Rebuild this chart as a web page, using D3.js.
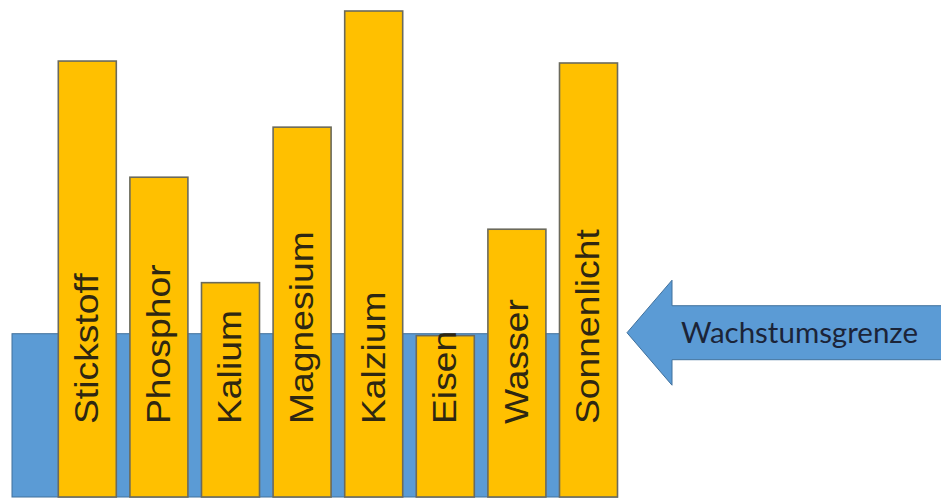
<!DOCTYPE html>
<html>
<head>
<meta charset="utf-8">
<script src="https://cdn.jsdelivr.net/npm/d3@7"></script>
<style>
  html, body { margin: 0; padding: 0; background: #ffffff; }
  svg { display: block; }
</style>
</head>
<body>
<svg id="chart" width="941" height="499"></svg>
<script>
// Nährstoffe und Wachstumsfaktoren (relative Verfügbarkeit)
const categories = ["Stickstoff", "Phosphor", "Kalium", "Magnesium", "Kalzium", "Eisen", "Wasser", "Sonnenlicht"];
const values = [89.7, 65.8, 44.1, 76.1, 100, 33.2, 55.1, 89.3];
// Der knappste Faktor bestimmt den Wasserstand im Fass
const growthLimit = 33.6;
const limitLabel = "Wachstumsgrenze";

const W = 941, H = 499;
const svg = d3.select("#chart");

const x = d3.scaleBand()
  .domain(categories)
  .range([58.3, 617.5])
  .paddingInner(0.19)
  .paddingOuter(0);

const y = d3.scaleLinear()
  .domain([0, 100])
  .range([497, 11]);

const blue = "#5b9bd5";
const blueEdge = "#41719c";
const orange = "#ffc000";
const barEdge = "#6b6a5c";

// Wasserstand (Fass)
const barrelLeft = 12;
svg.append("rect")
  .attr("x", barrelLeft)
  .attr("y", y(growthLimit))
  .attr("width", x.range()[1] - barrelLeft)
  .attr("height", y(0) - y(growthLimit))
  .attr("fill", blue)
  .attr("stroke", blueEdge)
  .attr("stroke-width", 1);

// Fassdauben
svg.append("g")
  .selectAll("rect")
  .data(categories)
  .join("rect")
  .attr("x", d => x(d))
  .attr("y", (d, i) => y(values[i]))
  .attr("width", x.bandwidth())
  .attr("height", (d, i) => y(0) - y(values[i]))
  .attr("fill", orange)
  .attr("stroke", barEdge)
  .attr("stroke-width", 1.6);

// Beschriftung der Dauben (senkrecht)
const labelSize = 33;
const labelBottom = 424;
svg.append("g")
  .selectAll("text")
  .data(categories)
  .join("text")
  .attr("transform", d => `translate(${x(d) + x.bandwidth() / 2 + labelSize * 0.33},${labelBottom}) rotate(-90) scale(1.13,1)`)
  .attr("text-anchor", "start")
  .attr("font-family", "'Liberation Sans', Arial, sans-serif")
  .attr("font-size", labelSize)
  .attr("fill", "#2e2712")
  .text(d => d);

// Pfeil auf Höhe der Wachstumsgrenze
const tipX = x.range()[1] + 9.5;
const tipY = y(growthLimit) - 1;
const headLen = 45, headHalf = 52.5, shaftHalf = 27;
const arrow = d3.path();
arrow.moveTo(tipX, tipY);
arrow.lineTo(tipX + headLen, tipY - headHalf);
arrow.lineTo(tipX + headLen, tipY - shaftHalf);
arrow.lineTo(W + 10, tipY - shaftHalf);
arrow.lineTo(W + 10, tipY + shaftHalf);
arrow.lineTo(tipX + headLen, tipY + shaftHalf);
arrow.lineTo(tipX + headLen, tipY + headHalf);
arrow.closePath();
svg.append("path")
  .attr("d", arrow.toString())
  .attr("fill", blue)
  .attr("stroke", blueEdge)
  .attr("stroke-width", 1);

svg.append("text")
  .attr("transform", `translate(${tipX + 54},${tipY + 10.5}) scale(1,1.14)`)
  .attr("font-family", "Lato, 'Open Sans', sans-serif")
  .attr("font-size", 26)
  .attr("textLength", 237)
  .attr("lengthAdjust", "spacingAndGlyphs")
  .attr("fill", "#1b2438")
  .text(limitLabel);
</script>
</body>
</html>
